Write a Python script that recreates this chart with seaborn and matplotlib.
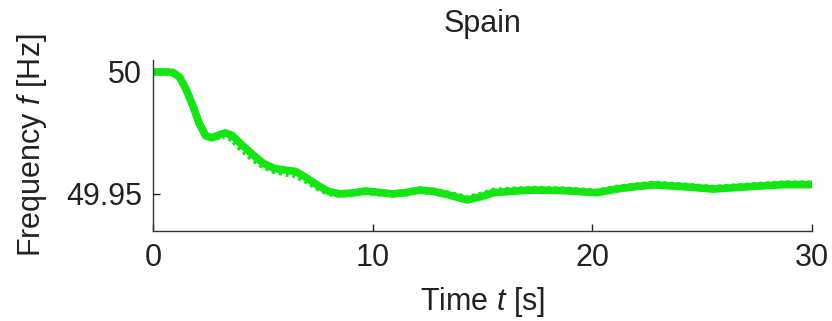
import numpy as np
import pandas as pd
import matplotlib
matplotlib.use("Agg")
import matplotlib.pyplot as plt
import seaborn as sns

# Frequency response after the disturbance, Spanish area
time_s = [0, 0.5, 0.9, 1.2, 1.5, 1.8, 2.1, 2.4, 2.7, 3.0, 3.3, 3.6, 4.0, 4.5,
          5.0, 5.5, 6.0, 6.5, 7.0, 7.5, 8.0, 8.5, 9.0, 9.7, 10.3, 10.9, 11.5,
          12.15, 12.8, 13.5, 14.3, 15.0, 15.5, 16.5, 17.3, 18.8, 20.2, 21.1,
          22.0, 22.8, 24.1, 25.5, 27.2, 28.7, 30]

freq_measured = [50.0, 50.0, 49.9998, 49.998, 49.993, 49.9865, 49.979, 49.9738,
                 49.973, 49.9742, 49.975, 49.974, 49.9705, 49.9665, 49.9627,
                 49.9605, 49.9598, 49.9592, 49.9565, 49.9535, 49.951, 49.950,
                 49.9503, 49.9512, 49.9506, 49.950, 49.9505, 49.9516, 49.951,
                 49.9495, 49.9475, 49.949, 49.9505, 49.9512, 49.9516, 49.9513,
                 49.9505, 49.952, 49.953, 49.9537, 49.953, 49.952, 49.953,
                 49.9538, 49.9538]

freq_simulated = [50.0, 50.0, 49.9998, 49.998, 49.993, 49.9865, 49.979, 49.9738,
                  49.973, 49.9738, 49.974, 49.9728, 49.969, 49.965, 49.9618,
                  49.9598, 49.9588, 49.9578, 49.9555, 49.9528, 49.9506, 49.950,
                  49.9502, 49.951, 49.9505, 49.950, 49.9505, 49.9515, 49.951,
                  49.9497, 49.948, 49.9495, 49.951, 49.9515, 49.9518, 49.9515,
                  49.9507, 49.9522, 49.9532, 49.9539, 49.9532, 49.9522, 49.9532,
                  49.954, 49.954]

x_ticks = [0, 10, 20, 30]
y_ticks = [49.95, 50.0]
y_tick_labels = ["49.95", "50"]

sns.set_theme(style="white")
plt.rcParams["font.family"] = ["Liberation Sans", "DejaVu Sans"]
plt.rcParams["mathtext.fontset"] = "custom"
plt.rcParams["mathtext.rm"] = "Liberation Sans"
plt.rcParams["mathtext.it"] = "Liberation Sans:italic"

df = pd.DataFrame({"t": time_s, "measured": freq_measured, "simulated": freq_simulated})

fig = plt.figure(figsize=(8.32, 3.21), dpi=100)
ax = fig.add_axes([153 / 832, 1 - 231 / 321, (812 - 153) / 832, (231 - 60) / 321])

green = "#14e614"
sns.lineplot(data=df, x="t", y="simulated", ax=ax, color=green, lw=5.5,
             linestyle=(0, (0.4, 0.5)), solid_capstyle="butt")
sns.lineplot(data=df, x="t", y="measured", ax=ax, color=green, lw=5.5)

ax.set_xlim(0, 30)
ax.set_ylim(49.9348, 50.0049)
ax.set_xticks(x_ticks)
ax.set_yticks(y_ticks)
ax.set_yticklabels(y_tick_labels)
ax.tick_params(direction="in", length=5, width=1, labelsize=22, colors="#222222",
               bottom=True, left=True)
ax.tick_params(axis="x", pad=9)
ax.tick_params(axis="y", pad=8)
for s in ["top", "right"]:
    ax.spines[s].set_visible(False)
for s in ["left", "bottom"]:
    ax.spines[s].set_color("#333333")
    ax.spines[s].set_linewidth(1)

ax.set_xlabel("Time $t$ [s]", fontsize=22, color="#222222", labelpad=8)
ax.set_ylabel("Frequency $f$ [Hz]", fontsize=22, color="#222222", labelpad=12)
ax.set_title("Spain", fontsize=22, color="#222222", pad=20)

fig.savefig("out.png", dpi=100)
